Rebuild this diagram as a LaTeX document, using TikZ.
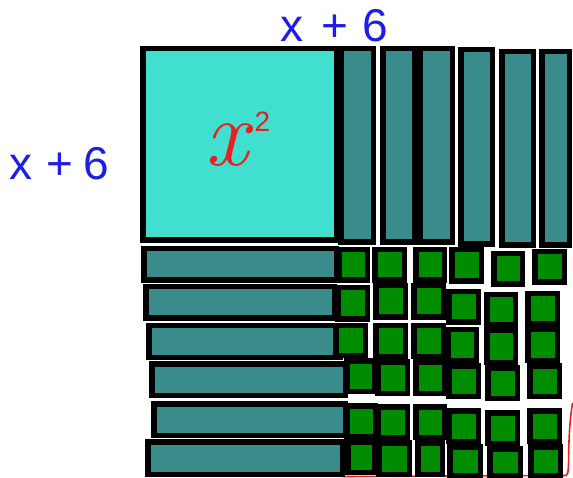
\documentclass[tikz,border=0pt]{standalone}
\usepackage{fontspec}
\usepackage{tikz}
\newfontfamily\penfont{Liberation Sans}
\definecolor{tilecyan}{HTML}{40DFD0}
\definecolor{tileteal}{HTML}{3A8C8C}
\definecolor{tilegreen}{HTML}{008C00}
\definecolor{penblue}{HTML}{1E1EE6}
\definecolor{penred}{HTML}{E82020}

\begin{document}
\begin{tikzpicture}[x=1pt,y=-1pt,
    tileedge/.style={draw=black,line width=5.5pt},
    bigtile/.style={tileedge,fill=tilecyan},
    longtile/.style={tileedge,fill=tileteal},
    unittile/.style={tileedge,fill=tilegreen},
    sidelabel/.style={text=penblue,font=\penfont\fontsize{46}{46}\selectfont,inner sep=0pt}]
  \useasboundingbox (0,0) rectangle (573,478);
  % red pen mark under the unit tiles
  \draw[penred,line width=1.6pt] (342,476.5) -- (566,475.5)
    .. controls (571,474) and (566,445) .. (572.5,403);
  % x^2 tile
  \draw[bigtile] (142.75,48.75) rectangle (336.25,240.25);
  % x tiles, standing
  \foreach \xa/\ya/\xb/\yb in {338/46/376/245,380/46/417/245,417/46/455/245,
      458/47/495/247,499/49/536/248,539/49/572/248}
    \draw[longtile] (\xa+2.75,\ya+2.75) rectangle (\xb-2.75,\yb-2.75);
  % x tiles, lying
  \foreach \xa/\ya/\xb/\yb in {141/246/339/283,143/284/337/321,146/323/343/360,
      149/361/348/398,151/401/348/438,145/439/345/477}
    \draw[longtile] (\xa+2.75,\ya+2.75) rectangle (\xb-2.75,\yb-2.75);
  % unit tiles
  \foreach \xa/\ya/\xb/\yb in {336/247/370/283,372/247/407/283,413/247/447/283,
      449/247/484/284,491/251/525/287,532/249/567/285,
      335/285/370/322,373/283/408/320,411/283/446/320,
      446/289/481/325,484/292/518/328,525/291/560/327,
      333/323/368/358,373/323/408/359,411/323/446/359,
      445/327/479/363,484/328/518/365,525/327/560/363,
      344/358/377/394,375/359/410/396,413/359/447/396,
      446/363/481/399,485/365/520/401,527/363/562/399,
      344/403/378/439,375/404/410/440,413/404/447/440,
      446/408/481/444,485/410/520/446,527/408/562/444,
      345/439/377/475,376/440/412/477,415/440/445/477,
      447/444/483/478,487/446/523/478,528/444/563/478}
    \draw[unittile] (\xa+2.75,\ya+2.75) rectangle (\xb-2.75,\yb-2.75);
  % labels
  \node[sidelabel] (toplabel) at (334,26) {x\hspace{18pt}+\hspace{14pt}6};
  \node[sidelabel] (leftlabel) at (59,164) {x\hspace{14pt}+\hspace{10pt}6};
  \node[text=penred,inner sep=0pt] (area) at (238,139)
    {\fontsize{95}{95}\selectfont\itshape x\hspace{6pt}\raisebox{34pt}{\penfont\upshape\fontsize{28}{28}\selectfont 2}};
\end{tikzpicture}
\end{document}
